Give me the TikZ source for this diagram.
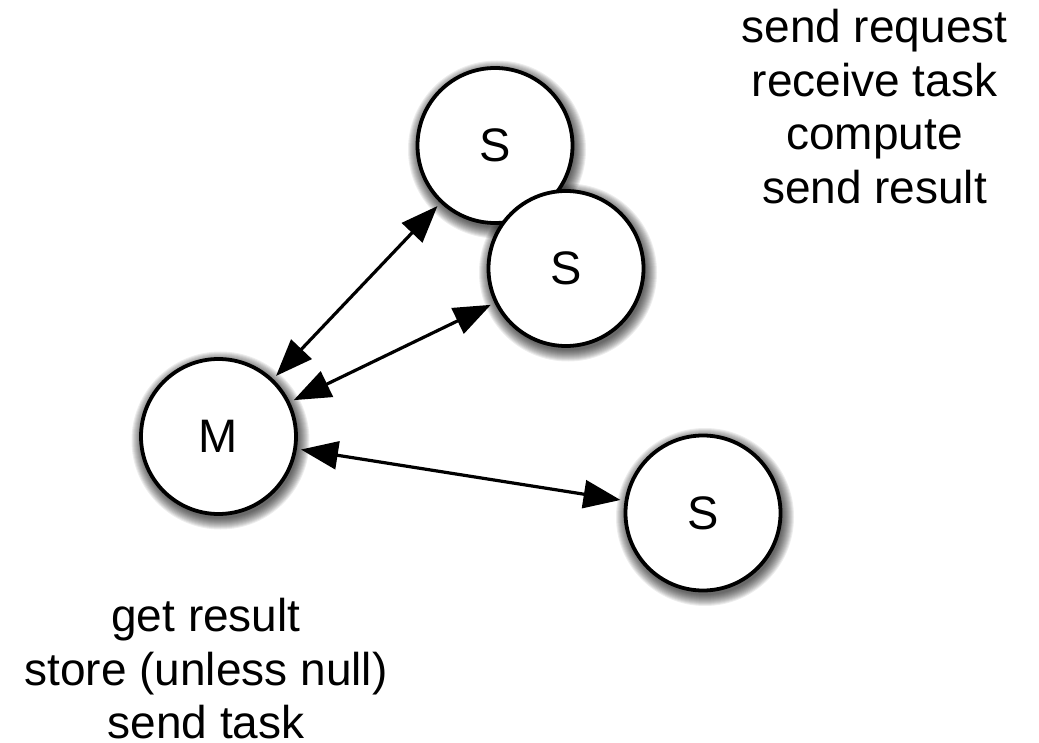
\documentclass[tikz,border=0pt]{standalone}
\usepackage{fontspec}
\setmainfont{Liberation Sans}
\usetikzlibrary{arrows.meta}

\tikzset{
  proc/.style={circle, draw=black, fill=white, line width=3.8pt,
    minimum size=155pt, inner sep=0pt, outer sep=6pt,
    font=\fontsize{47}{54}\selectfont},
  shadowring/.style={fill=black, opacity=0.07},
  link/.style={line width=3.2pt,
    {Triangle[length=37pt,width=28pt]}-{Triangle[length=37pt,width=28pt]}},
  note/.style={align=center, inner sep=0pt, anchor=north,
    font=\fontsize{46}{53.7}\selectfont}
}

\begin{document}
\begin{tikzpicture}[x=1pt,y=-1pt]
  \useasboundingbox (0,0) rectangle (1039,743);

  % centres of the processes
  \coordinate (cs1) at (495,145.5);
  \coordinate (cs2) at (566,268.5);
  \coordinate (cm)  at (218.5,436.5);
  \coordinate (cs3) at (703,513);

  % soft drop shadows, built from stacked translucent discs
  \foreach \c in {cs1,cs2,cm,cs3}
    \foreach \i in {0,...,11}
      \fill[shadowring] ([shift={(2,4)}]\c) circle [radius={89-\i}];

  % workers and master
  \node[proc] (s1) at (cs1) {S};
  \node[proc] (s2) at (cs2) {S};
  \node[proc] (m)  at (cm)  {M};
  \node[proc] (s3) at (cs3) {S};

  % message exchange between master and workers
  \draw[link] (m) -- (s1);
  \draw[link] (m) -- (s2);
  \draw[link] (m) -- (s3);

  % per-role steps
  \node[note] (wsteps) at (874.5,9) {send request\\receive task\\compute\\send result};
  \node[note] (msteps) at (206,598) {get result\\store (unless null)\\send task};
\end{tikzpicture}
\end{document}
